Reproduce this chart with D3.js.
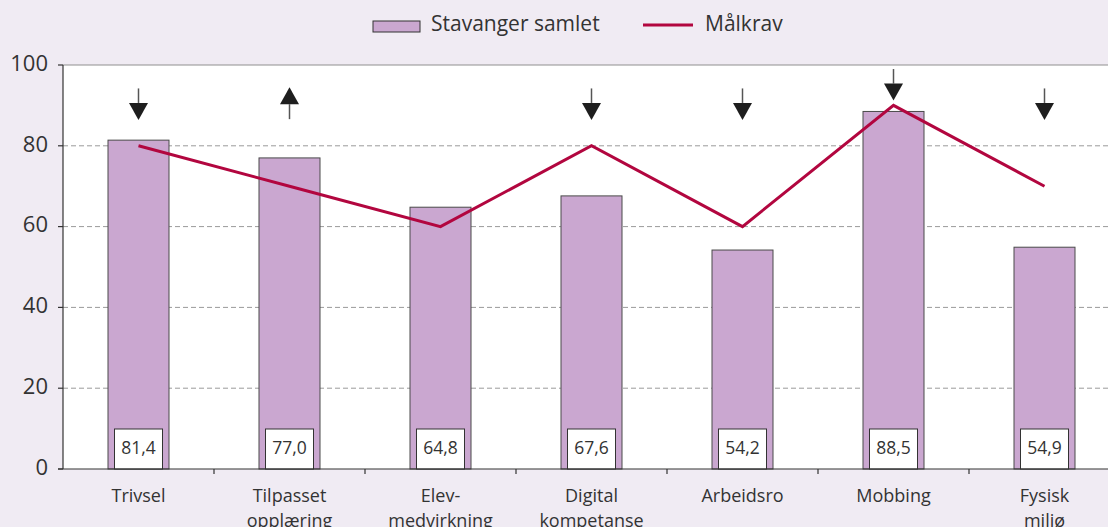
<!DOCTYPE html>
<html>
<head>
<meta charset="utf-8">
<script src="https://cdn.jsdelivr.net/npm/d3@7"></script>
<style>
  body { margin: 0; background: #f0ebf3; }
  svg { display: block; font-family: "Open Sans", "Noto Sans", sans-serif; }
</style>
</head>
<body>
<div id="chart"></div>
<script>

// DATA

var categories = [
    ['Trivsel'],
    ['Tilpasset', 'opplæring'],
    ['Elev-', 'medvirkning'],
    ['Digital', 'kompetanse'],
    ['Arbeidsro'],
    ['Mobbing'],
    ['Fysisk', 'miljø']
];
var stavangerValues = [81.4, 77.0, 64.8, 67.6, 54.2, 88.5, 54.9];
var maalkravValues  = [80, 70, 60, 80, 60, 90, 70];
var arrowDirections = ['down', 'up', null, 'down', 'down', 'down', 'down'];
var yTicks = [0, 20, 40, 60, 80, 100];
var legendLabels = ['Stavanger samlet', 'Målkrav'];


// SETUP

var width = 1108;
var height = 527;

var margin = {
    left: 63,
    right: 0,
    top: 65,
    bottom: 58
};

var colors = {
    bg:     '#f0ebf3',
    bar:    '#caa7d0',
    barEdge:'#4a4a4a',
    line:   '#b2063f',
    grid:   '#9a9a9a',
    text:   '#333333'
};

var svg = d3.select( '#chart' ).append( 'svg' )
            .attr( 'width', width )
            .attr( 'height', height );

svg.append( 'rect' )
    .attr( 'width', width )
    .attr( 'height', height )
    .attr( 'fill', colors.bg );

var plotW = 151 * categories.length;
var plotH = height - margin.top - margin.bottom;

var x = d3.scaleBand()
            .domain( d3.range( categories.length ) )
            .range( [margin.left, margin.left + plotW] );

var y = d3.scaleLinear()
            .domain( [0, 100] )
            .range( [margin.top + plotH, margin.top] );

// Plot area
svg.append( 'rect' )
    .attr( 'x', margin.left )
    .attr( 'y', y( 100 ) )
    .attr( 'width', width - margin.left )
    .attr( 'height', y( 0 ) - y( 100 ) )
    .attr( 'fill', '#fff' );

// Gridlines
svg.append( 'g' )
    .selectAll( 'line' )
    .data( yTicks.filter( function( t ) { return t > 0 && t < 100; } ) )
    .join( 'line' )
    .attr( 'x1', margin.left )
    .attr( 'x2', width )
    .attr( 'y1', function( d ) { return y( d ); } )
    .attr( 'y2', function( d ) { return y( d ); } )
    .attr( 'stroke', colors.grid )
    .attr( 'stroke-width', 1 )
    .attr( 'stroke-dasharray', '5,3' );

// Top border
svg.append( 'line' )
    .attr( 'x1', margin.left )
    .attr( 'x2', width )
    .attr( 'y1', y( 100 ) )
    .attr( 'y2', y( 100 ) )
    .attr( 'stroke', '#8f8f8f' )
    .attr( 'stroke-width', 1.2 );

// Bars
var barW = 61;
svg.append( 'g' )
    .selectAll( 'rect' )
    .data( stavangerValues )
    .join( 'rect' )
    .attr( 'x', function( d, i ) { return x( i ) + x.bandwidth() / 2 - barW / 2; } )
    .attr( 'y', function( d ) { return y( d ); } )
    .attr( 'width', barW )
    .attr( 'height', function( d ) { return y( 0 ) - y( d ); } )
    .attr( 'fill', colors.bar )
    .attr( 'stroke', colors.barEdge )
    .attr( 'stroke-width', 1 );

// Value boxes
var boxW = 48, boxH = 40;
var boxes = svg.append( 'g' )
    .selectAll( 'g' )
    .data( stavangerValues )
    .join( 'g' )
    .attr( 'transform', function( d, i ) {
        return 'translate(' + ( x( i ) + x.bandwidth() / 2 ) + ',' + ( y( 0 ) - boxH ) + ')';
    } );

boxes.append( 'rect' )
    .attr( 'x', -boxW / 2 )
    .attr( 'y', 0 )
    .attr( 'width', boxW )
    .attr( 'height', boxH )
    .attr( 'fill', '#fff' )
    .attr( 'stroke', '#333' )
    .attr( 'stroke-width', 1 );

boxes.append( 'text' )
    .attr( 'y', 20 )
    .attr( 'text-anchor', 'middle' )
    .attr( 'dominant-baseline', 'middle' )
    .attr( 'font-size', 17.5 )
    .attr( 'fill', colors.text )
    .text( function( d ) { return d.toFixed( 1 ).replace( '.', ',' ); } );

// Target line
var line = d3.line()
    .x( function( d, i ) { return x( i ) + x.bandwidth() / 2; } )
    .y( function( d ) { return y( d ); } );

svg.append( 'path' )
    .datum( maalkravValues )
    .attr( 'd', line )
    .attr( 'fill', 'none' )
    .attr( 'stroke', colors.line )
    .attr( 'stroke-width', 3 );

// Arrows
var arrowG = svg.append( 'g' );
arrowDirections.forEach( function( dir, i ) {
    if ( !dir ) { return; }
    var cx = x( i ) + x.bandwidth() / 2;
    // Arrows sit above the target, lifted where the target is high
    var shift = Math.max( 0, y( 86.5 ) - y( maalkravValues[i] + 1.3 ) );
    var top = y( 94.2 ) - shift;
    var bot = y( 86.4 ) - shift;
    var triH = 17, triW = 19;
    if ( dir === 'down' ) {
        arrowG.append( 'line' )
            .attr( 'x1', cx ).attr( 'x2', cx )
            .attr( 'y1', top ).attr( 'y2', bot - triH )
            .attr( 'stroke', '#555' ).attr( 'stroke-width', 1.5 );
        arrowG.append( 'path' )
            .attr( 'd', 'M' + ( cx - triW / 2 ) + ',' + ( bot - triH ) +
                        'L' + ( cx + triW / 2 ) + ',' + ( bot - triH ) +
                        'L' + cx + ',' + bot + 'Z' )
            .attr( 'fill', '#1e1e1e' );
    } else {
        var upTop = y( 94.5 ) - shift;
        var upBot = y( 86.6 ) - shift;
        arrowG.append( 'line' )
            .attr( 'x1', cx ).attr( 'x2', cx )
            .attr( 'y1', upTop + triH ).attr( 'y2', upBot )
            .attr( 'stroke', '#555' ).attr( 'stroke-width', 1.5 );
        arrowG.append( 'path' )
            .attr( 'd', 'M' + ( cx - triW / 2 ) + ',' + ( upTop + triH ) +
                        'L' + ( cx + triW / 2 ) + ',' + ( upTop + triH ) +
                        'L' + cx + ',' + upTop + 'Z' )
            .attr( 'fill', '#1e1e1e' );
    }
} );

// Y axis
svg.append( 'line' )
    .attr( 'x1', margin.left ).attr( 'x2', margin.left )
    .attr( 'y1', y( 100 ) ).attr( 'y2', y( 0 ) )
    .attr( 'stroke', '#333' ).attr( 'stroke-width', 1.2 );

var yAxisG = svg.append( 'g' );
yAxisG.selectAll( 'line' )
    .data( yTicks )
    .join( 'line' )
    .attr( 'x1', margin.left - 5 ).attr( 'x2', margin.left )
    .attr( 'y1', function( d ) { return y( d ); } )
    .attr( 'y2', function( d ) { return y( d ); } )
    .attr( 'stroke', '#333' ).attr( 'stroke-width', 1.2 );

yAxisG.selectAll( 'text' )
    .data( yTicks )
    .join( 'text' )
    .attr( 'x', margin.left - 15 )
    .attr( 'y', function( d ) { return y( d ); } )
    .attr( 'text-anchor', 'end' )
    .attr( 'dominant-baseline', 'middle' )
    .attr( 'font-size', 22 )
    .attr( 'fill', colors.text )
    .text( function( d ) { return d; } );

// X axis
svg.append( 'line' )
    .attr( 'x1', margin.left - 5 ).attr( 'x2', width )
    .attr( 'y1', y( 0 ) ).attr( 'y2', y( 0 ) )
    .attr( 'stroke', '#333' ).attr( 'stroke-width', 1.2 );

svg.append( 'g' )
    .selectAll( 'line' )
    .data( d3.range( 1, categories.length ) )
    .join( 'line' )
    .attr( 'x1', function( d ) { return x( d ); } )
    .attr( 'x2', function( d ) { return x( d ); } )
    .attr( 'y1', y( 0 ) ).attr( 'y2', y( 0 ) + 5 )
    .attr( 'stroke', '#333' ).attr( 'stroke-width', 1.2 );

var xLabels = svg.append( 'g' )
    .selectAll( 'text' )
    .data( categories )
    .join( 'text' )
    .attr( 'x', function( d, i ) { return x( i ) + x.bandwidth() / 2; } )
    .attr( 'y', y( 0 ) + 33 )
    .attr( 'text-anchor', 'middle' )
    .attr( 'font-size', 18 )
    .attr( 'fill', colors.text );

xLabels.selectAll( 'tspan' )
    .data( function( d ) { return d; } )
    .join( 'tspan' )
    .attr( 'x', function() { return this.parentNode.getAttribute( 'x' ); } )
    .attr( 'dy', function( d, j ) { return j === 0 ? 0 : 25; } )
    .text( function( d ) { return d; } );

// Legend
var legend = svg.append( 'g' );
legend.append( 'rect' )
    .attr( 'x', 373 ).attr( 'y', 21 )
    .attr( 'width', 47 ).attr( 'height', 11 )
    .attr( 'fill', colors.bar )
    .attr( 'stroke', '#333' ).attr( 'stroke-width', 1 );
legend.append( 'text' )
    .attr( 'x', 431 ).attr( 'y', 25 )
    .attr( 'dominant-baseline', 'middle' )
    .attr( 'font-size', 21 )
    .attr( 'fill', colors.text )
    .text( legendLabels[0] );
legend.append( 'line' )
    .attr( 'x1', 643 ).attr( 'x2', 693 )
    .attr( 'y1', 25 ).attr( 'y2', 25 )
    .attr( 'stroke', colors.line ).attr( 'stroke-width', 3 );
legend.append( 'text' )
    .attr( 'x', 705 ).attr( 'y', 25 )
    .attr( 'dominant-baseline', 'middle' )
    .attr( 'font-size', 21 )
    .attr( 'fill', colors.text )
    .text( legendLabels[1] );

</script>
</body>
</html>
